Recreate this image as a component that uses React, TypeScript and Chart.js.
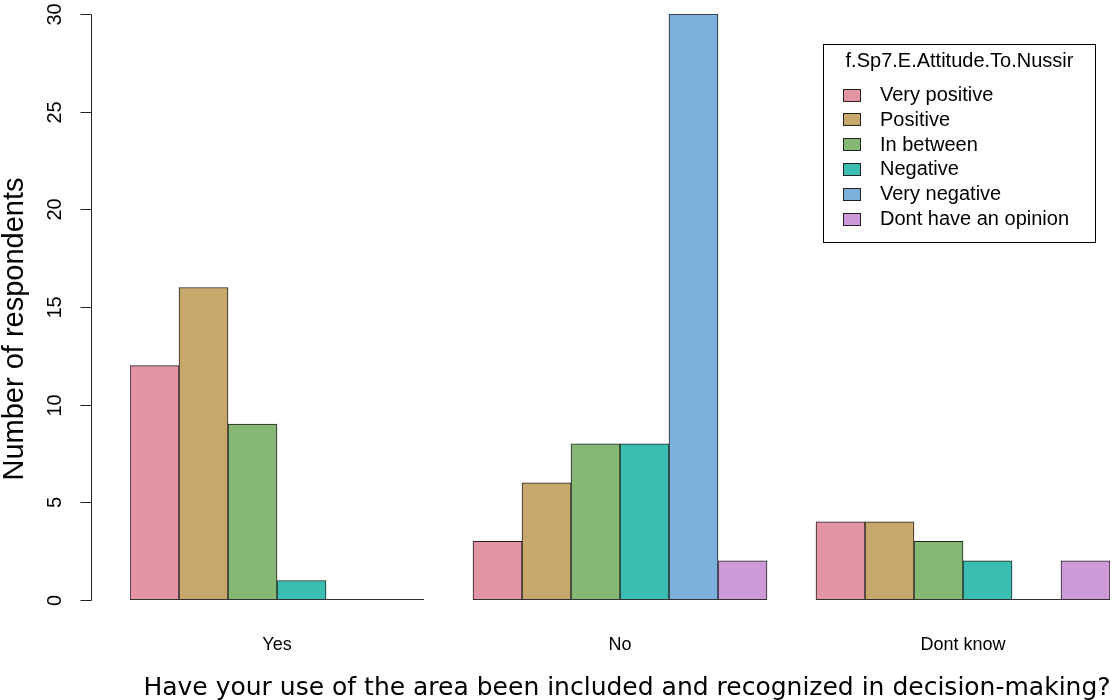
import React, { useEffect, useRef } from "react";
import { Chart, registerables } from "chart.js";

Chart.register(...registerables);

// ---- data ----
const categories = ["Yes", "No", "Dont know"];
const seriesNames = [
  "Very positive",
  "Positive",
  "In between",
  "Negative",
  "Very negative",
  "Dont have an opinion",
];
const veryPositive = [12, 3, 4];
const positive = [16, 6, 4];
const inBetween = [9, 8, 3];
const negative = [1, 8, 2];
const veryNegative = [0, 30, 0];
const noOpinion = [0, 2, 2];
const seriesValues = [veryPositive, positive, inBetween, negative, veryNegative, noOpinion];
const seriesColors = ["#E495A5", "#C7A76C", "#86B875", "#39BEB1", "#7DB0DD", "#CD99D8"];
const yTicks = [0, 5, 10, 15, 20, 25, 30];
const legendTitle = "f.Sp7.E.Attitude.To.Nussir";
const xTitle = "Have your use of the area been included and recognized in decision-making?";
const yTitle = "Number of respondents";

// ---- slot layout (R barplot beside=TRUE, one empty slot between groups) ----
const nSeries = seriesNames.length;
const groupSpan = nSeries + 1;
const nSlots = categories.length * groupSpan - 1;
const slotLabels: string[] = [];
for (let s = 0; s < nSlots; s++) {
  const g = Math.floor(s / groupSpan);
  const i = s % groupSpan;
  slotLabels.push(i < nSeries ? categories[g] + " - " + seriesNames[i] : "");
}

const ARIAL = "'Liberation Sans', Arial, sans-serif";
const DEJAVU = "'DejaVu Sans', Verdana, sans-serif";

const rPlotPlugin = {
  id: "rPlot",
  afterDatasetsDraw(chart: any) {
    const ctx = chart.ctx;
    const x2 = chart.scales.x2;
    const y = chart.scales.y;
    ctx.save();
    // baselines under each group (zero-height bars in R)
    ctx.strokeStyle = "#333";
    ctx.lineWidth = 1;
    const y0 = Math.round(y.getPixelForValue(0)) - 0.5;
    categories.forEach((_, g) => {
      const l = x2.getPixelForValue(g * groupSpan - 0.5);
      const r = x2.getPixelForValue(g * groupSpan + nSeries - 0.5);
      ctx.beginPath();
      ctx.moveTo(l, y0);
      ctx.lineTo(r, y0);
      ctx.stroke();
    });
    ctx.restore();
  },
  afterDraw(chart: any) {
    const ctx = chart.ctx;
    const x2 = chart.scales.x2;
    const y = chart.scales.y;
    const area = chart.chartArea;
    ctx.save();
    // y axis
    const ax = Math.round(x2.getPixelForValue(-0.5 - 0.8)) + 0.5;
    ctx.strokeStyle = "#222";
    ctx.lineWidth = 1;
    ctx.beginPath();
    ctx.moveTo(ax, Math.round(y.getPixelForValue(yTicks[0])) + 0.5);
    ctx.lineTo(ax, Math.round(y.getPixelForValue(yTicks[yTicks.length - 1])) + 0.5);
    ctx.stroke();
    ctx.fillStyle = "#000";
    ctx.font = "20px " + ARIAL;
    ctx.textAlign = "center";
    ctx.textBaseline = "middle";
    yTicks.forEach((t) => {
      const py = Math.round(y.getPixelForValue(t)) + 0.5;
      ctx.beginPath();
      ctx.moveTo(ax - 11, py);
      ctx.lineTo(ax, py);
      ctx.stroke();
      ctx.save();
      ctx.translate(55, py);
      ctx.rotate(-Math.PI / 2);
      ctx.fillText(String(t), 0, 0);
      ctx.restore();
    });
    // y title
    ctx.save();
    ctx.font = "29px " + ARIAL;
    ctx.translate(15, 329);
    ctx.rotate(-Math.PI / 2);
    ctx.fillText(yTitle, 0, 0);
    ctx.restore();

    // x group labels
    ctx.font = "18px " + ARIAL;
    categories.forEach((c, g) => {
      const px = x2.getPixelForValue(g * groupSpan + (nSeries - 1) / 2);
      ctx.fillText(c, px, area.bottom + 45);
    });
    // x title
    ctx.font = "25px " + DEJAVU;
    ctx.fillText(xTitle, (area.left + area.right) / 2 + 7, 688.5);

    // legend
    const bx = 823.5, by = 44.5, bw = 272, bh = 198;
    ctx.fillStyle = "#fff";
    ctx.fillRect(bx, by, bw, bh);
    ctx.strokeStyle = "#000";
    ctx.strokeRect(bx, by, bw, bh);
    ctx.fillStyle = "#000";
    ctx.font = "20px " + ARIAL;
    ctx.textAlign = "center";
    ctx.fillText(legendTitle, bx + bw / 2, 61.5);
    ctx.textAlign = "left";
    seriesNames.forEach((name, i) => {
      const cy = 94.5 + i * 24.8;
      ctx.fillStyle = seriesColors[i];
      ctx.fillRect(843.5, Math.round(cy - 6) + 0.5, 17, 12);
      ctx.strokeStyle = "#222";
      ctx.strokeRect(843.5, Math.round(cy - 6) + 0.5, 17, 12);
      ctx.fillStyle = "#000";
      ctx.fillText(name, 880, cy + 1);
    });
    ctx.restore();
  },
};

export default function App() {
  const ref = useRef<HTMLCanvasElement | null>(null);
  useEffect(() => {
    if (!ref.current) return;
    const datasets = seriesNames.map((name, k) => {
      const data: (number | null)[] = new Array(nSlots).fill(null);
      categories.forEach((_, g) => {
        data[g * groupSpan + k] = seriesValues[k][g];
      });
      return {
        label: name,
        data,
        backgroundColor: seriesColors[k],
        borderColor: "#222",
        borderWidth: 1,
        borderSkipped: false as any,
        grouped: false,
        categoryPercentage: 1,
        barPercentage: 1,
        xAxisID: "x",
        yAxisID: "y",
      };
    });
    const chart = new Chart(ref.current, {
      type: "bar",
      data: { labels: slotLabels, datasets },
      options: {
        animation: false,
        responsive: false,
        devicePixelRatio: 1,
        layout: { padding: { left: 130, right: 7, top: 14, bottom: 100 } },
        plugins: { legend: { display: false }, tooltip: { enabled: false } },
        scales: {
          x: { type: "category", display: false, offset: true },
          x2: {
            type: "linear",
            display: false,
            position: "bottom",
            offset: false,
            bounds: "data",
            min: -0.5,
            max: nSlots - 0.5,
            grid: { offset: false },
            afterBuildTicks: (axis: any) => {
              axis.min = -0.5;
              axis.max = nSlots - 0.5;
            },
          },
          y: { type: "linear", display: false, min: 0, max: 30 },
        },
      },
      plugins: [rPlotPlugin],
    } as any);
    return () => chart.destroy();
  }, []);
  return (
    <div style={{ position: "fixed", left: 0, top: 0, width: 1117, height: 700, background: "#fff" }}>
      <canvas ref={ref} width={1117} height={700} style={{ display: "block" }} />
    </div>
  );
}
